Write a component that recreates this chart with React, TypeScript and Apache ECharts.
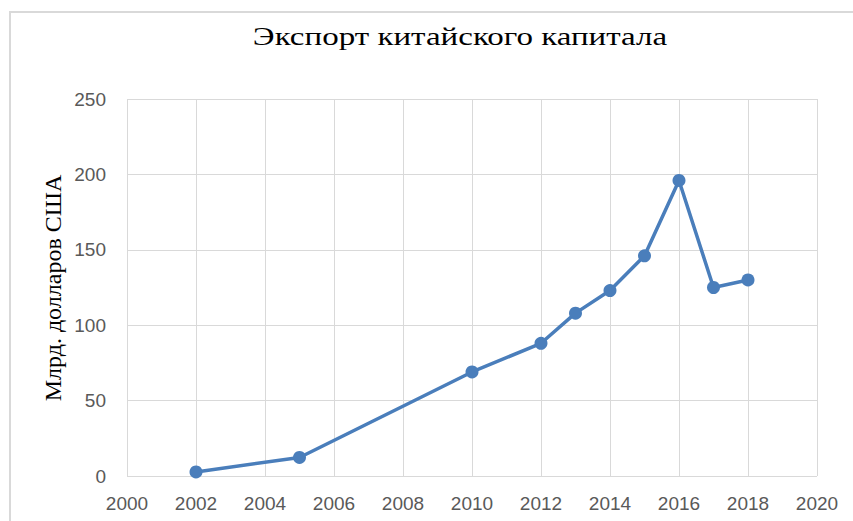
import React, { useEffect, useRef } from "react";
import * as echarts from "echarts";

const years = [2002, 2005, 2010, 2012, 2013, 2014, 2015, 2016, 2017, 2018];
const values = [2.7, 12.3, 69, 88, 108, 123, 146, 196, 125, 130];
const titleText = "Экспорт китайского капитала";
const yAxisTitle = "Млрд. долларов США";

export default function App() {
  const ref = useRef<HTMLDivElement>(null);
  useEffect(() => {
    if (!ref.current) return;
    const chart = echarts.init(ref.current, null, { renderer: "svg" });
    chart.setOption({
      animation: false,
      backgroundColor: "#ffffff",
      grid: { left: 127, right: 36, top: 99, bottom: 45, containLabel: false },
      graphic: [
        { type: "line", shape: { x1: 9, y1: 12, x2: 853, y2: 12 }, style: { stroke: "#d9d9d9", lineWidth: 2 } },
        { type: "line", shape: { x1: 10, y1: 12, x2: 10, y2: 521 }, style: { stroke: "#d9d9d9", lineWidth: 2 } },
        {
          type: "text",
          x: 460,
          y: 36,
          scaleX: 1.27,
          style: {
            text: titleText,
            font: "26px 'Liberation Serif'",
            fill: "#000000",
            textAlign: "center",
            textVerticalAlign: "middle",
          },
        },
        {
          type: "text",
          x: 53,
          y: 288,
          rotation: Math.PI / 2,
          style: {
            text: yAxisTitle,
            font: "24px 'Liberation Serif'",
            fill: "#000000",
            textAlign: "center",
            textVerticalAlign: "middle",
          },
        },
      ],
      xAxis: {
        type: "value",
        min: 2000,
        max: 2020,
        interval: 2,
        axisLine: { show: false },
        axisTick: { show: false },
        splitLine: { show: true, lineStyle: { color: "#d9d9d9", width: 1 } },
        axisLabel: {
          color: "#595959",
          fontFamily: "Liberation Sans",
          fontSize: 19,
          margin: 18,
          formatter: (v: number) => String(v),
        },
      },
      yAxis: {
        type: "value",
        min: 0,
        max: 250,
        interval: 50,
        axisLine: { show: false },
        axisTick: { show: false },
        splitLine: { show: true, lineStyle: { color: "#d9d9d9", width: 1 } },
        axisLabel: {
          color: "#595959",
          fontFamily: "Liberation Sans",
          fontSize: 19,
          margin: 21,
        },
      },
      series: [
        {
          type: "line",
          data: years.map((y, i) => [y, values[i]]),
          symbol: "circle",
          symbolSize: 13,
          lineStyle: { color: "#4a7ebb", width: 3.5 },
          itemStyle: { color: "#4a7ebb" },
        },
      ],
    });
    return () => chart.dispose();
  }, []);
  return <div ref={ref} style={{ width: 853, height: 521, position: "absolute", left: 0, top: 0 }} />;
}
